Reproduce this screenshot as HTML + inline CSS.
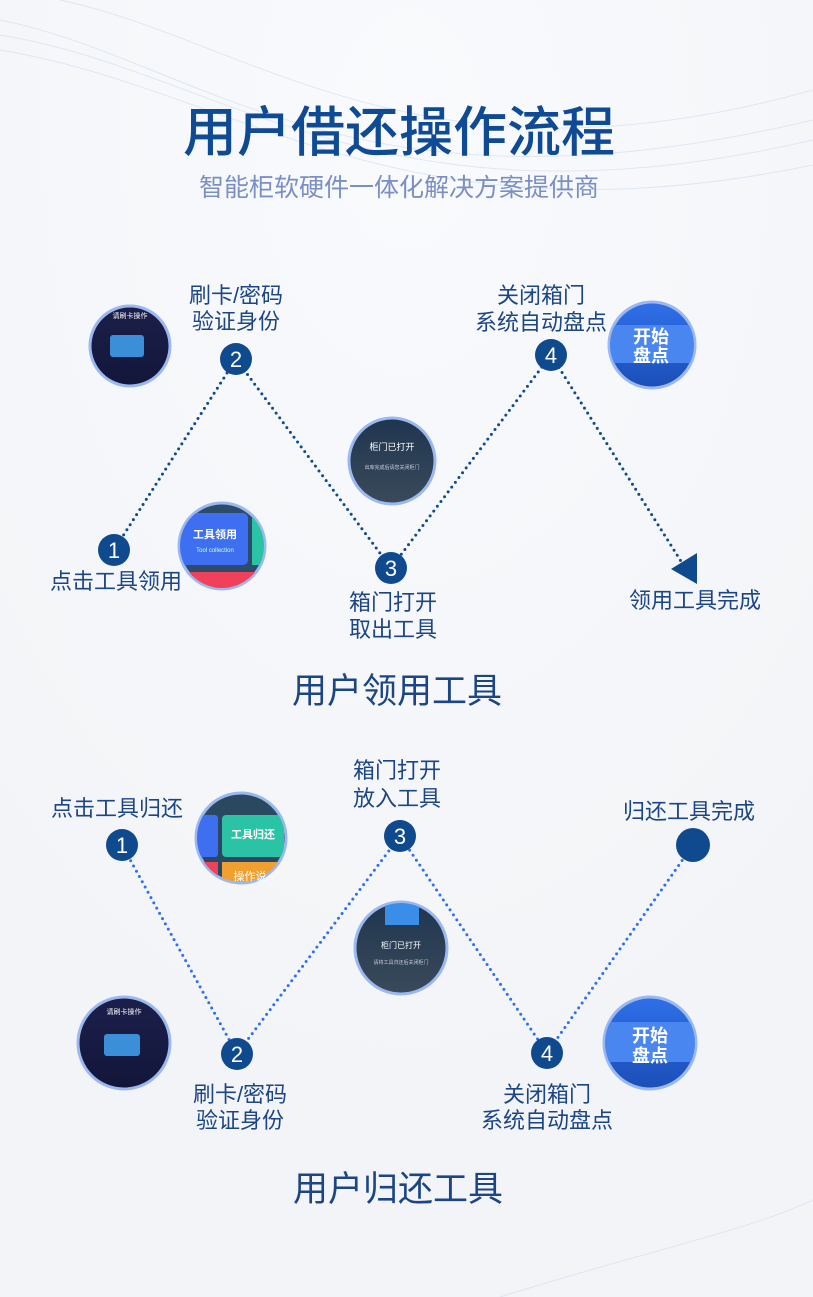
<!DOCTYPE html>
<html><head><meta charset="utf-8"><style>
body{margin:0;width:813px;height:1297px;overflow:hidden;background:#f3f5f8;font-family:"Liberation Sans","Noto Sans CJK SC",sans-serif}
svg{display:block}
</style></head><body>
<svg width="813" height="1297" viewBox="0 0 813 1297" xmlns="http://www.w3.org/2000/svg">
<defs>
<radialGradient id="bg" cx="0.5" cy="0.1" r="0.8"><stop offset="0" stop-color="#f8fafd"/><stop offset="1" stop-color="#f2f4f7"/></radialGradient>
<linearGradient id="dark" x1="0" y1="0" x2="0" y2="1"><stop offset="0" stop-color="#1c1f4a"/><stop offset="1" stop-color="#12163a"/></linearGradient>
<linearGradient id="door" x1="0" y1="0" x2="0" y2="1"><stop offset="0" stop-color="#1f3550"/><stop offset="1" stop-color="#3a4a5a"/></linearGradient>
<linearGradient id="start" x1="0" y1="0" x2="0" y2="1"><stop offset="0" stop-color="#2f6fe8"/><stop offset="1" stop-color="#1b4fb8"/></linearGradient>
<clipPath id="c1"><circle cx="222" cy="546" r="42"/></clipPath>
<clipPath id="c2"><circle cx="241" cy="838" r="44"/></clipPath>
<clipPath id="c3"><circle cx="652" cy="345" r="42"/></clipPath>
<clipPath id="c4"><circle cx="650" cy="1043" r="45"/></clipPath>
<clipPath id="c5"><circle cx="401" cy="948" r="45"/></clipPath>
</defs>
<rect width="813" height="1297" fill="url(#bg)"/>
<g fill="none" stroke="#d5e0f2" stroke-width="1" opacity="0.7">
<path d="M0 20 C200 60 350 230 813 120"/><path d="M0 35 C220 70 380 240 813 140"/><path d="M0 50 C240 90 400 250 813 165"/><path d="M60 0 C250 40 420 200 813 90"/><path d="M500 1297 C650 1250 750 1230 813 1200"/>
</g>
<text x="399" y="151" text-anchor="middle" font-size="54" fill="#0f4a94" font-weight="500">用户借还操作流程</text>
<text x="399" y="196" text-anchor="middle" font-size="25" fill="#7b8fc6">智能柜软硬件一体化解决方案提供商</text>

<g stroke="#0f4a8e" stroke-width="3" stroke-dasharray="0 6" stroke-linecap="round" fill="none">
<polyline points="114,550 236,359 391,568 551,355 684,566"/>
</g>
<polygon points="697,553 697,584 671,569" fill="#0f4a8e"/>

<g stroke="#9cb8f0" stroke-width="3">
<circle cx="130" cy="346" r="40" fill="url(#dark)"/>
<circle cx="222" cy="546" r="43" fill="#2d4b6a"/>
<circle cx="392" cy="461" r="43" fill="url(#door)"/>
<circle cx="652" cy="345" r="43" fill="url(#start)"/>
</g>
<rect x="110" y="335" width="34" height="22" rx="3" fill="#3b8ed8"/>
<text x="130" y="318" text-anchor="middle" font-size="7" fill="#fff">请刷卡操作</text>
<g clip-path="url(#c1)">
<rect x="180" y="513" width="68" height="52" rx="5" fill="#3d6ff0"/>
<rect x="252" y="513" width="20" height="52" fill="#2ac3a6"/>
<rect x="170" y="572" width="100" height="30" fill="#f0405a"/>
</g>
<text x="215" y="538" text-anchor="middle" font-size="11" fill="#fff" font-weight="bold">工具领用</text>
<text x="215" y="552" text-anchor="middle" font-size="6" fill="#cfe">Tool collection</text>
<text x="392" y="450" text-anchor="middle" font-size="9" fill="#fff">柜门已打开</text>
<text x="392" y="469" text-anchor="middle" font-size="5" fill="#ccd">出库完成后请您关闭柜门</text>
<g clip-path="url(#c3)"><rect x="605" y="325" width="95" height="38" fill="#4a86f0"/></g>
<text x="651" y="343" text-anchor="middle" font-size="18" fill="#fff" font-weight="bold">开始</text>
<text x="651" y="362" text-anchor="middle" font-size="18" fill="#fff" font-weight="bold">盘点</text>

<g fill="#0f4a8e"><circle cx="114" cy="550" r="16"/><circle cx="236" cy="359" r="16"/><circle cx="391" cy="568" r="16"/><circle cx="551" cy="355" r="16"/></g>
<g fill="#fff" font-size="22" text-anchor="middle"><text x="114" y="558">1</text><text x="236" y="367">2</text><text x="391" y="576">3</text><text x="551" y="363">4</text></g>
<g font-size="22" fill="#1c4585" text-anchor="middle">
<text x="116" y="589">点击工具领用</text>
<text x="236" y="303">刷卡/密码</text><text x="236" y="329">验证身份</text>
<text x="393" y="610">箱门打开</text><text x="393" y="637">取出工具</text>
<text x="541" y="303">关闭箱门</text><text x="541" y="330">系统自动盘点</text>
<text x="695" y="608">领用工具完成</text>
</g>
<text x="397" y="703" text-anchor="middle" font-size="35" fill="#1c4585">用户领用工具</text>

<g stroke="#2f6ff0" stroke-width="3" stroke-dasharray="0 6" stroke-linecap="round" fill="none">
<polyline points="122,845 237,1054 400,836 547,1053 693,845"/>
</g>
<g stroke="#9cb8f0" stroke-width="3">
<circle cx="241" cy="838" r="45" fill="#2a4860"/>
<circle cx="401" cy="948" r="46" fill="url(#door)"/>
<circle cx="124" cy="1043" r="46" fill="url(#dark)"/>
<circle cx="650" cy="1043" r="46" fill="url(#start)"/>
</g>
<g clip-path="url(#c2)">
<rect x="222" y="815" width="62" height="42" rx="4" fill="#2ac3a6"/>
<rect x="190" y="815" width="28" height="42" rx="3" fill="#3d6ff0"/>
<rect x="222" y="862" width="70" height="30" fill="#f0a030"/>
<rect x="190" y="862" width="28" height="30" fill="#f0405a"/>
</g>
<text x="253" y="838" text-anchor="middle" font-size="11" fill="#fff" font-weight="bold">工具归还</text>
<text x="250" y="880" text-anchor="middle" font-size="11" fill="#fff">操作说</text>
<g clip-path="url(#c5)"><rect x="385" y="900" width="34" height="25" fill="#3a8ee8"/></g>
<text x="401" y="948" text-anchor="middle" font-size="8" fill="#fff">柜门已打开</text>
<text x="401" y="964" text-anchor="middle" font-size="5" fill="#ccd">请将工具归还后关闭柜门</text>
<rect x="104" y="1034" width="36" height="22" rx="3" fill="#3b8ed8"/>
<text x="124" y="1014" text-anchor="middle" font-size="7" fill="#fff">请刷卡操作</text>
<g clip-path="url(#c4)"><rect x="600" y="1022" width="100" height="40" fill="#4a86f0"/></g>
<text x="650" y="1042" text-anchor="middle" font-size="18" fill="#fff" font-weight="bold">开始</text>
<text x="650" y="1062" text-anchor="middle" font-size="18" fill="#fff" font-weight="bold">盘点</text>

<g fill="#0f4a8e"><circle cx="122" cy="845" r="16"/><circle cx="237" cy="1054" r="16"/><circle cx="400" cy="836" r="16"/><circle cx="547" cy="1053" r="16"/><circle cx="693" cy="845" r="17"/></g>
<g fill="#fff" font-size="22" text-anchor="middle"><text x="122" y="853">1</text><text x="237" y="1062">2</text><text x="400" y="844">3</text><text x="547" y="1061">4</text></g>
<g font-size="22" fill="#1c4585" text-anchor="middle">
<text x="117" y="816">点击工具归还</text>
<text x="397" y="778">箱门打开</text><text x="397" y="806">放入工具</text>
<text x="689" y="819">归还工具完成</text>
<text x="240" y="1102">刷卡/密码</text><text x="240" y="1128">验证身份</text>
<text x="547" y="1102">关闭箱门</text><text x="547" y="1128">系统自动盘点</text>
</g>
<text x="398" y="1201" text-anchor="middle" font-size="35" fill="#1c4585">用户归还工具</text>
</svg>
</body></html>
